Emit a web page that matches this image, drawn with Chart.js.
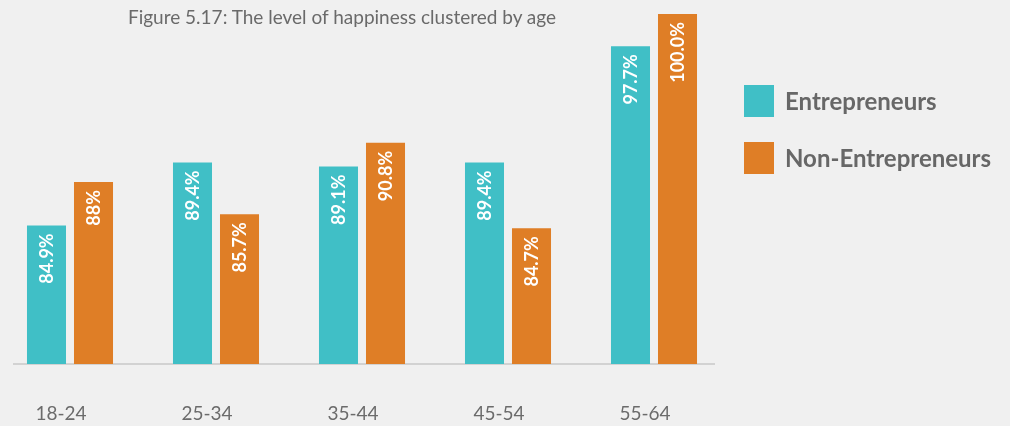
<!DOCTYPE html>
<html lang="en">
<head>
  <meta charset="UTF-8">
  <title>Happiness by age</title>
  <script src="https://cdn.jsdelivr.net/npm/chart.js"></script>
  <style>
    body { margin: 0; background: #f0f0f0; }
    .wrap { position: relative; width: 1010px; height: 426px; background: #f0f0f0; overflow: hidden; }
    canvas { position: absolute; left: 0; top: 0; }
    .judul {
      position: absolute; left: 0; top: 6px; width: 684px;
      text-align: center; font: 19px/21px Lato, sans-serif; color: #6a6a6a;
    }
    .legenda-item { position: absolute; left: 744px; height: 32px; }
    .legenda-item span.kotak { position: absolute; left: 0; top: 0; width: 30px; height: 32px; }
    .legenda-item span.teks {
      position: absolute; left: 41px; top: 0; white-space: nowrap;
      font: bold 24px/32px Lato, sans-serif; color: #676767;
    }
  </style>
</head>
<body>

<div class="wrap">
  <canvas id="grafik" width="1010" height="426"></canvas>
  <div class="judul">Figure 5.17: The level of happiness clustered by age</div>
  <div id="legenda"></div>
</div>

<script>
  // data per kelompok umur
  const kelompokUmur = ['18-24', '25-34', '35-44', '45-54', '55-64'];
  const namaSeri = ['Entrepreneurs', 'Non-Entrepreneurs'];
  const warnaSeri = ['#40bfc6', '#df7e26'];
  const nilaiEntrepreneurs = [84.9, 89.4, 89.1, 89.4, 97.7];
  const nilaiNonEntrepreneurs = [88, 85.7, 90.8, 84.7, 100.0];
  const labelEntrepreneurs = ['84.9%', '89.4%', '89.1%', '89.4%', '97.7%'];
  const labelNonEntrepreneurs = ['88%', '85.7%', '90.8%', '84.7%', '100.0%'];
  const labelSeri = [labelEntrepreneurs, labelNonEntrepreneurs];
  const skalaMin = 75;
  const skalaMax = 100;

  // garis dasar di bawah batang, lebih panjang dari area chart
  const garisDasar = {
    id: 'garisDasar',
    beforeDatasetsDraw(chart) {
      const { ctx, chartArea } = chart;
      ctx.save();
      ctx.strokeStyle = '#c9c9c9';
      ctx.lineWidth = 1.5;
      ctx.beginPath();
      ctx.moveTo(chartArea.left - 57, chartArea.bottom);
      ctx.lineTo(chartArea.right + 61, chartArea.bottom);
      ctx.stroke();
      ctx.restore();
    }
  };

  // angka persen vertikal di dalam batang
  const labelBatang = {
    id: 'labelBatang',
    afterDatasetsDraw(chart) {
      const ctx = chart.ctx;
      chart.data.datasets.forEach((ds, i) => {
        chart.getDatasetMeta(i).data.forEach((bar, j) => {
          ctx.save();
          ctx.translate(bar.x, bar.y + 8);
          ctx.rotate(-Math.PI / 2);
          ctx.textAlign = 'right';
          ctx.textBaseline = 'middle';
          ctx.fillStyle = '#ffffff';
          ctx.font = 'bold 18px Lato';
          ctx.fillText(labelSeri[i][j], 0, 1);
          ctx.restore();
        });
      });
    }
  };

  new Chart(document.getElementById('grafik'), {
    type: 'bar',
    data: {
      labels: kelompokUmur,
      datasets: [
        { label: namaSeri[0], data: nilaiEntrepreneurs, backgroundColor: warnaSeri[0], base: skalaMin, clip: false },
        { label: namaSeri[1], data: nilaiNonEntrepreneurs, backgroundColor: warnaSeri[1], base: skalaMin, clip: false }
      ]
    },
    options: {
      responsive: false,
      animation: false,
      devicePixelRatio: 1,
      categoryPercentage: 0.644,
      barPercentage: 0.83,
      layout: { padding: { left: 70, right: 356, top: 14, bottom: 0 } },
      plugins: {
        legend: { display: false },
        title: { display: false },
        tooltip: { enabled: false }
      },
      scales: {
        x: {
          offset: false,
          border: { display: false },
          grid: { display: false, drawTicks: false },
          ticks: {
            padding: 38,
            labelOffset: -9,
            color: '#6b6b6b',
            font: { family: 'Lato', size: 19 }
          },
          afterFit(scale) {
            scale.height = 62;
          }
        },
        y: {
          display: false,
          min: skalaMin,
          max: skalaMax
        }
      }
    },
    plugins: [garisDasar, labelBatang]
  });

  // legenda di sisi kanan
  const legenda = document.getElementById('legenda');
  namaSeri.forEach((nama, i) => {
    const item = document.createElement('div');
    item.className = 'legenda-item';
    item.style.top = (85 + i * 57) + 'px';
    item.innerHTML = `<span class="kotak" style="background:${warnaSeri[i]}"></span><span class="teks">${nama}</span>`;
    legenda.appendChild(item);
  });
</script>

</body>
</html>
